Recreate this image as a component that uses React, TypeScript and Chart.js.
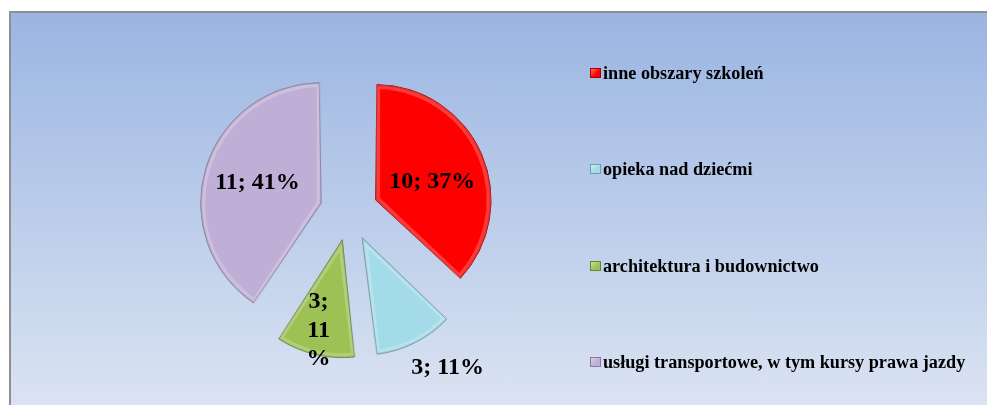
import React, { useEffect, useRef } from 'react';
import { Chart, registerables } from 'chart.js';

Chart.register(...registerables);

const categories = [
  'inne obszary szkoleń',
  'opieka nad dziećmi',
  'architektura i budownictwo',
  'usługi transportowe, w tym kursy prawa jazdy',
];
const values = [10, 3, 3, 11];
const sliceColors = ['#FF0000', '#A3DCE8', '#9DC154', '#BFAED5'];
const sliceBorders = ['#A80000', '#6E9FAD', '#66852E', '#877A9E'];

const SERIF = '"Liberation Serif", "Times New Roman", serif';

const labelPlacement = [
  { r: 0.56, shift: 3.3, wrap: false },
  { r: 1.43, shift: -7.2, wrap: false },
  { r: 0.85, shift: 1.7, wrap: true },
  { r: 0.63, shift: 3.1, wrap: false },
];

const sliceLabels = {
  id: 'sliceLabels',
  afterDatasetsDraw(chart: any) {
    const ctx = chart.ctx as CanvasRenderingContext2D;
    const meta = chart.getDatasetMeta(0);
    const ds = chart.data.datasets[0];
    const data = ds.data as number[];
    const total = data.reduce((a: number, b: number) => a + b, 0);
    const shiftOut = (ds.offset as number) / 4;

    // bevel-like shading on each slice
    meta.data.forEach((el: any) => {
      const { x, y, startAngle, endAngle, outerRadius } = el;
      const mid = (startAngle + endAngle) / 2;
      const circ = endAngle - startAngle;
      const fix = 1 - Math.sin(Math.min(Math.PI, circ));
      const R = outerRadius + shiftOut * fix;
      const ox = x + Math.cos(mid) * shiftOut;
      const oy = y + Math.sin(mid) * shiftOut;
      ctx.save();
      ctx.beginPath();
      ctx.moveTo(ox, oy);
      ctx.arc(ox, oy, R, startAngle, endAngle);
      ctx.closePath();
      ctx.clip();
      ctx.lineJoin = 'round';
      ctx.lineWidth = 9;
      ctx.strokeStyle = 'rgba(255,255,255,0.22)';
      ctx.stroke();
      ctx.lineWidth = 3;
      ctx.strokeStyle = 'rgba(0,0,0,0.10)';
      ctx.stroke();
      ctx.restore();
    });

    ctx.save();
    ctx.font = `bold 24px ${SERIF}`;
    ctx.fillStyle = '#000';
    ctx.textAlign = 'center';
    ctx.textBaseline = 'middle';
    meta.data.forEach((el: any, i: number) => {
      const { x, y, startAngle, endAngle, outerRadius } = el;
      const p = labelPlacement[i];
      const mid = (startAngle + endAngle) / 2;
      const a = mid + (p.shift * Math.PI) / 180;
      const cx = x + Math.cos(mid) * shiftOut + Math.cos(a) * p.r * outerRadius;
      const cy = y + Math.sin(mid) * shiftOut + Math.sin(a) * p.r * outerRadius + 2.5;
      const pct = Math.round((data[i] / total) * 100);
      const lines = p.wrap ? [`${data[i]};`, `${pct}`, '%'] : [`${data[i]}; ${pct}%`];
      const lh = 28.5;
      lines.forEach((ln, k) => ctx.fillText(ln, cx, cy + (k - (lines.length - 1) / 2) * lh));
    });
    ctx.restore();
  },
};

export default function App() {
  const ref = useRef<HTMLCanvasElement>(null);
  useEffect(() => {
    const chart = new Chart(ref.current as HTMLCanvasElement, {
      type: 'pie',
      data: {
        labels: categories,
        datasets: [
          {
            data: values,
            backgroundColor: sliceColors,
            borderColor: sliceBorders,
            borderWidth: 1,
            offset: 116,
            hoverOffset: 0,
            radius: 107.5,
          } as any,
        ],
      },
      options: {
        responsive: false,
        animation: false,
        layout: { padding: { left: 0, right: 300, top: 5, bottom: 0 } },
        plugins: {
          legend: { display: false },
          tooltip: { enabled: false },
        },
      },
      plugins: [sliceLabels],
    });
    return () => chart.destroy();
  }, []);

  return (
    <div style={{ position: 'fixed', inset: 0, overflow: 'hidden', background: '#fff' }}>
      <div
        style={{
          position: 'absolute',
          left: 9,
          top: 11,
          width: 1000,
          height: 420,
          borderTop: '2px solid #8f8f8f',
          borderLeft: '2px solid #8f8f8f',
          background: 'linear-gradient(to bottom, #9BB5E2 0px, #DAE3F2 392px, #DDE5F3 420px)',
        }}
      >
        <canvas ref={ref} width={976} height={392} style={{ position: 'absolute', left: 0, top: 0 }} />
        {categories.map((c, i) => (
          <div
            key={c}
            style={{
              position: 'absolute',
              left: 579,
              top: 60 + i * 96.3 - 9,
              height: 18,
              display: 'flex',
              alignItems: 'center',
              whiteSpace: 'nowrap',
              font: `bold 18.2px ${SERIF}`,
              lineHeight: '18px',
              color: '#000',
            }}
          >
            <span
              style={{
                display: 'inline-block',
                width: 9,
                height: 8,
                background: `linear-gradient(135deg, rgba(255,255,255,0.45), rgba(255,255,255,0) 60%), ${sliceColors[i]}`,
                border: `1px solid ${sliceBorders[i]}`,
                marginRight: 2,
                flex: 'none',
              }}
            />
            <span>{c}</span>
          </div>
        ))}
      </div>
    </div>
  );
}
